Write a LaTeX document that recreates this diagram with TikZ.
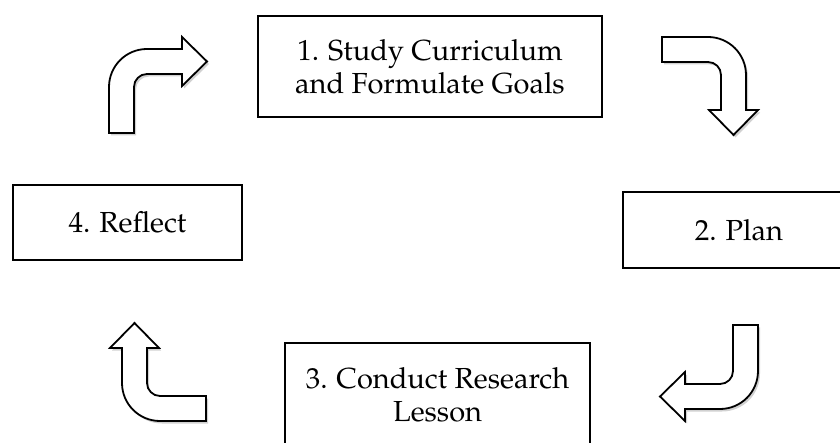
\documentclass[tikz,border=0pt]{standalone}
\usepackage[T1]{fontenc}
\usepackage{palatino}
\usepackage{tikz}
\usetikzlibrary{positioning}

\begin{document}
\begin{tikzpicture}[x=1pt, y=-1pt,
  stage/.style={draw=black, line width=2pt, fill=white, align=center, inner sep=0pt, font=\fontsize{29}{33}\selectfont},
  turn/.style={draw=black, line width=1.8pt, fill=white, line join=miter,
    preaction={draw=none, fill=black, opacity=0.18, transform canvas={xshift=2pt, yshift=-2.5pt}}}]
\useasboundingbox (0,0) rectangle (840,443);
\clip (0,0) rectangle (840,443);
\node[stage, minimum width=344pt, minimum height=101pt] (s1) at (430,66.5) {1. Study Curriculum\\and Formulate Goals};
\node[stage, minimum width=232pt, minimum height=76pt] (s2) at (739,230) {2. Plan};
\node[stage, minimum width=305pt, minimum height=103pt] (s3) at (437.5,394.5) {3. Conduct Research\\Lesson};
\node[stage, minimum width=229pt, minimum height=75pt] (s4) at (127.5,222.5) {4. Reflect};
\foreach \p/\r in {{(109,49)}/0, {(746,37)}/-90, {(758,409)}/-180, {(122,421)}/90}
  \draw[turn, shift={\p}, rotate=\r] (0,84) [rounded corners=38pt] -- (0,0) [sharp corners] -- (73,0) -- (73,-12) -- (98,12.5) -- (73,37) -- (73,25) [rounded corners=13pt] -- (25,25) [sharp corners] -- (25,84) -- cycle;
\end{tikzpicture}
\end{document}
